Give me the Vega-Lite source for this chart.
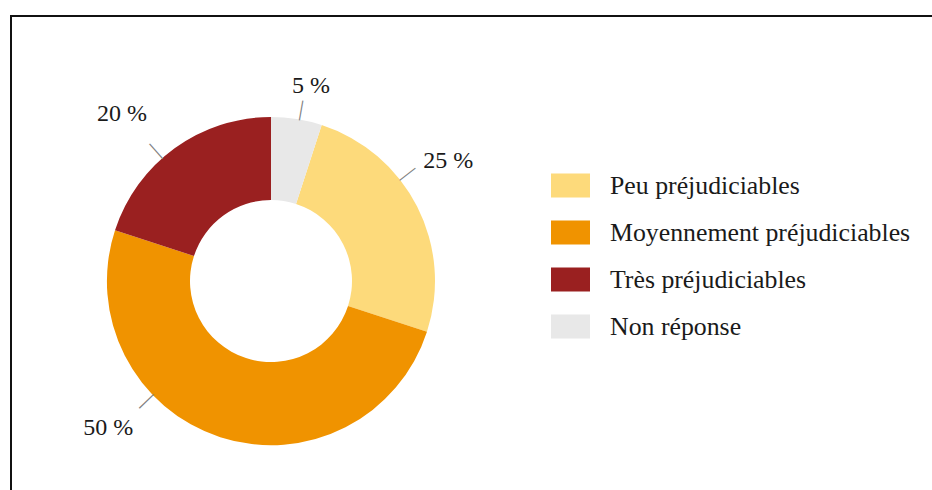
{
  "$schema": "https://vega.github.io/schema/vega-lite/v6.json",
  "padding": {"left": 10, "top": 15, "right": 0, "bottom": 0},
  "background": "white",
  "bounds": "flush",
  "data": {
    "values": [
      {"cat": "Peu préjudiciables", "pct": 25},
      {"cat": "Moyennement préjudiciables", "pct": 50},
      {"cat": "Très préjudiciables", "pct": 20},
      {"cat": "Non réponse", "pct": 5}
    ]
  },
  "spacing": 0,
  "hconcat": [
    {
      "width": 520,
      "height": 530,
      "view": {"stroke": "#111111", "strokeWidth": 2, "strokeDash": [520, 1050, 530]},
      "transform": [
        {"calculate": "indexof(['Non réponse','Peu préjudiciables','Moyennement préjudiciables','Très préjudiciables'], datum.cat)", "as": "ord"},
        {"window": [{"op": "sum", "field": "pct", "as": "cum"}], "sort": [{"field": "ord"}], "frame": [null, 0]},
        {"calculate": "datum.cum - datum.pct / 2", "as": "mid"},
        {"calculate": "datum.pct + ' %'", "as": "lab"}
      ],
      "layer": [
        {
          "mark": {"type": "arc", "outerRadius": 164, "innerRadius": 81},
          "encoding": {
            "theta": {"field": "pct", "type": "quantitative", "stack": true},
            "order": {"field": "ord", "type": "quantitative"},
            "color": {
              "field": "cat",
              "type": "nominal",
              "scale": {
                "domain": ["Peu préjudiciables", "Moyennement préjudiciables", "Très préjudiciables", "Non réponse"],
                "range": ["#FDDA7B", "#F09300", "#9A2020", "#E8E8E8"]
              },
              "legend": {"title": null, "orient": "none", "legendX": 540, "legendY": 150}
            }
          }
        },
        {
          "mark": {"type": "text", "font": "Liberation Serif", "fontSize": 24, "color": "#1a1a1a", "align": "center", "baseline": "middle"},
          "encoding": {
            "theta": {"field": "mid", "type": "quantitative", "stack": null,
              "scale": {"domain": [0, 2.5, 17.5, 55, 90, 100], "range": [0, 0.2025, 0.9756, 3.9794, 5.5554, 6.2832]}},
            "radius": {"field": "mid", "type": "quantitative",
              "scale": {"type": "linear", "zero": false, "domain": [2.5, 17.5, 55, 90], "range": [199, 214, 219, 224]}},
            "text": {"field": "lab", "type": "nominal"}
          }
        },
        {
          "mark": {"type": "text", "radius": 175, "font": "Liberation Serif", "fontSize": 22, "color": "#808080", "text": "|", "align": "center", "baseline": "middle"},
          "encoding": {
            "theta": {"field": "mid", "type": "quantitative", "stack": null,
              "scale": {"domain": [0, 2.5, 17.5, 55, 90, 100], "range": [0, 0.1745, 0.9076, 3.9444, 5.5589, 6.2832]}},
            "angle": {"field": "mid", "type": "quantitative",
              "scale": {"domain": [0, 2.5, 17.5, 55, 90, 100], "range": [0, 10, 52, 226, 318.5, 360]}}
          }
        }
      ],
      "resolve": {"scale": {"theta": "independent"}}
    },
    {
      "data": {"values": []},
      "mark": "point",
      "width": 410,
      "height": 530,
      "view": {"stroke": "#111111", "strokeWidth": 2, "strokeDash": [410, 3000]}
    }
  ],
  "config": {
    "font": "Liberation Serif",
    "text": {"font": "Liberation Serif"},
    "legend": {
      "symbolType": "M-1,-0.615H1V0.615H-1Z",
      "symbolSize": 1521,
      "symbolStrokeWidth": 0,
      "symbolOpacity": 1,
      "labelFont": "Liberation Serif",
      "labelFontSize": 25.8,
      "labelColor": "#1a1a1a",
      "labelOffset": 20,
      "labelLimit": 500,
      "rowPadding": 14,
      "padding": 0
    }
  }
}
